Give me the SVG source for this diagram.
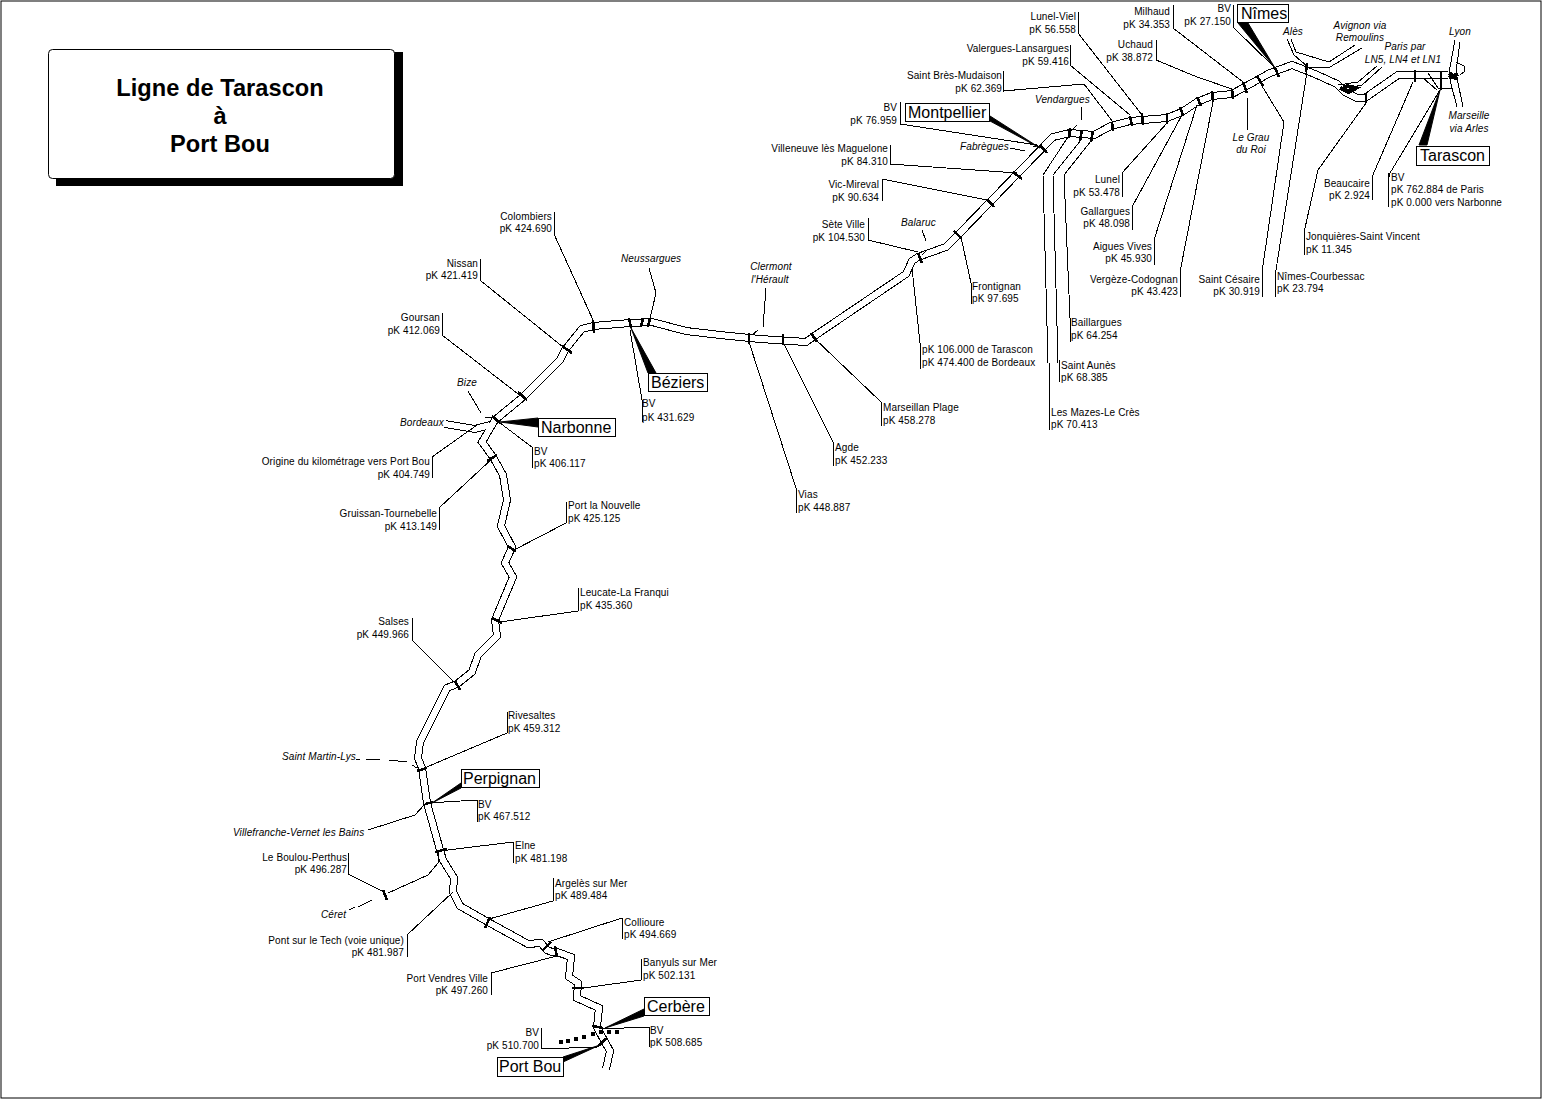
<svg xmlns="http://www.w3.org/2000/svg" width="1542" height="1100" viewBox="0 0 1542 1100">
<style>
text{font-family:"Liberation Sans",Arial,sans-serif;font-size:10px;letter-spacing:.12px;fill:#000}
.e{text-anchor:end}.m{text-anchor:middle}.i{font-style:italic}
.b{font-size:16px;letter-spacing:0}.h{font-size:23.6px;font-weight:bold;text-anchor:middle;letter-spacing:.05px}
.l,.t,.r,.o,.n{fill:none;stroke:#000;shape-rendering:crispEdges}
.l{stroke-width:1}.t{stroke-width:2.6}
.r{stroke-width:1}.o{stroke-width:8}.n{stroke:#fff;stroke-width:6}
.w{fill:#000;stroke:#000;stroke-width:1}.x{fill:#fff;stroke:#000;stroke-width:1}
</style>
<defs>
<path id="main" d="M1448 75L1398 75L1365 98L1357 98L1345 92L1337 84L1315 74L1292 65L1270 73L1232 94L1212 96L1197 102L1182 112L1167 118L1130 121L1111 126L1094 135L1070 133L1053 137L959 234L946 247L918 257L912 261L906 274L813 337L806 342L760 339L720 335L686 331L652 322L630 323L593 326L582 329L577 335L565 350L560 360L523 397L495 420L482 442L493 457L503 475L507 500L501 526L512 547L505 563L513 577L495 620L497 636L478 655L472 672L457 684L447 688L420 742L418 758L422 768L427 803L440 850L443 860L454 878L453 892L460 906L488 922L528 944L541 943L547 950L552 952L557 952L571 957L569 977L578 983L577 998L599 1008L597 1027L600 1033L610 1051L606 1069"/>
<path id="bdx" d="M445 424L475 429L490 425"/>
</defs>
<rect x="1" y="1" width="1540" height="1097" fill="#fff" stroke="#000"/>
<g id="title">
<rect x="56" y="52" width="347" height="134" fill="#000"/>
<rect x="48.500" y="49.500" width="346" height="129" rx="4" class="x"/>
<text class="h" x="220" y="96">Ligne de Tarascon</text>
<text class="h" x="220" y="124">à</text>
<text class="h" x="220" y="152">Port Bou</text>
</g>
<g id="tracks">
<use href="#bdx" class="o"/><use href="#main" class="o"/><use href="#bdx" class="n"/><use href="#main" class="n"/>
<path class="r" d="M1287 39L1294 55L1308 67M1291 39L1296 52L1329 62L1355 45M1307 67L1330 67L1362 48M1338 85L1358 82L1377 66M1353 87L1362 85L1382 67M1455 40L1449 73M1460 42L1456 72M1456 62L1464 66L1464 72L1460 75M1450 80L1457 107M1457 78L1463 107M1428 73L1438 88L1452 88M1423 78L1437 90"/>
<path class="t" style="stroke-width:4" d="M1340 88L1349 92L1356 88L1347 86L1341 90M1449 73L1457 79M1449 78L1458 74"/>
</g>
<g id="connectors">
<path class="l" d="M1078 33L1142 115M1070 65L1130 115M1003 91L1084 84L1113 122M900 124L1037 145M1068 137L1043 175L1048 363M1081 140L1053 175L1058 363M1091 141L1064 175L1070 318M1122 173L1167 123M1132 207L1182 115M1154 240L1197 105M1180 272L1213 102M1262 272L1284 122L1262 86M1276 270L1307 72M1156 60L1197 77L1232 89M1173 28L1243 82M1233 27L1275 68M1413 82L1372 177M1440 90L1390 173L1388 180M1366 103L1318 170L1305 228M890 164L1017 173M882 179L987 200M868 240L918 252M971 283L961 237M920 343L912 268M881 402L813 337M833 442L783 342M796 488L749 342M642 400L630 330M649 268L656 293L648 327M554 234L593 320M481 281L568 351M442 335L522 397M532 447L500 423M432 457L477 425M439 508L494 457M566 523L514 550M578 611L500 622M412 640L456 684M507 733L422 769M477 800L428 803M368 830L415 815L425 804M513 842L440 851M348 874L384 892M388 893L428 875L438 863L438 852M407 935L453 892M553 901L489 919M622 918L548 942M491 973L557 956M641 980L584 988M649 1027L600 1029M541 1049L597 1047L607 1038"/>
<path class="l" d="M1248 98L1247 130M1010 148L1025 151M1033 147L1038 145M1082 107L1081 120M1077 125L1070 132M922 230L926 241M927 250L922 255M766 288L763 327M758 330L752 335M468 391L481 413M485 417L493 417M356 759L360 759M366 759L380 760M389 760L407 762M412 765L417 768M349 910L355 907M358 907L372 900"/>
<path class="w" d="M990 116L990 121L1040 148ZM1238 23L1248 23L1275 68ZM1440 90L1419 145L1427 145ZM631 328L648 373L656 373ZM500 422L538 418L538 427ZM432 803L461 783L461 788ZM605 1028L644 1009L644 1016ZM600 1045L563 1057L563 1062Z"/>
</g>
<g id="ticks">
<path class="t" d="M1142 113L1143 125M1130 116L1132 126M1112 122L1113 131M1040 145L1047 153M1070 128L1069 138M1082 130L1080 141M1093 131L1091 142M1167 113L1167 124M1180 107L1183 115M1197 97L1201 106M1212 91L1213 102M1232 89L1233 99M1243 82L1247 93M1257 76L1263 86M1275 68L1279 77M1307 63L1306 72M1441 72L1441 90M1415 70L1415 82M1366 93L1366 103M1013 172L1022 179M987 199L994 207M918 253L922 263M954 231L962 239M811 333L817 342M783 334L783 345M749 333L749 344M643 318L641 327M650 318L648 327M629 318L631 328M593 320L594 333M562 346L572 353M518 392L527 400M492 416L500 423M487 461L497 455M507 546L516 551M492 618L502 623M455 681L460 690M417 771L427 768M425 804L433 802M435 852L447 849M383 890L387 900M490 917L485 928M551 942L542 951M555 946L557 957M572 988L584 988M592 1026L603 1028M607 1038L598 1046"/>
<path fill="#000" d="M559 1040h4v4h-4zM566 1039h4v4h-4zM574 1037h4v4h-4zM582 1035h4v4h-4zM591 1032h4v4h-4zM599 1030h4v4h-4zM607 1030h4v4h-4zM615 1030h4v4h-4z"/>
</g>
<g id="n-lunel-viel"><path class="l" d="M1078 12V34"/><text class="e" x="1076" y="20">Lunel-Viel</text><text class="e" x="1076" y="33">pK 56.558</text></g>
<g id="n-valergues"><path class="l" d="M1070 45V66"/><text class="e" x="1069" y="52">Valergues-Lansargues</text><text class="e" x="1069" y="65">pK 59.416</text></g>
<g id="n-saint-bres"><path class="l" d="M1003 71V92"/><text class="e" x="1002" y="79">Saint Brès-Mudaison</text><text class="e" x="1002" y="92">pK 62.369</text></g>
<g id="n-montpellier-bv"><path class="l" d="M900 102V124"/><text class="e" x="897" y="111">BV</text><text class="e" x="897" y="124">pK 76.959</text></g>
<g id="n-montpellier"><rect x="905.500" y="103.500" width="84" height="18" class="x"/><text class="b" x="908" y="118">Montpellier</text></g>
<g id="n-fabregues"><text class="i" x="960" y="150">Fabrègues</text></g>
<g id="n-vendargues"><text class="i" x="1035" y="103">Vendargues</text></g>
<g id="n-uchaud"><path class="l" d="M1156 40V61"/><text class="e" x="1153" y="48">Uchaud</text><text class="e" x="1153" y="61">pK 38.872</text></g>
<g id="n-milhaud"><path class="l" d="M1173 5V28"/><text class="e" x="1170" y="15">Milhaud</text><text class="e" x="1170" y="28">pK 34.353</text></g>
<g id="n-nimes-bv"><path class="l" d="M1233 5V27"/><text class="e" x="1231" y="12">BV</text><text class="e" x="1231" y="25">pK 27.150</text></g>
<g id="n-nimes"><rect x="1237.500" y="4.500" width="51" height="18" class="x"/><text class="b" x="1241" y="19">Nîmes</text></g>
<g id="n-ales"><text class="i" x="1283" y="35">Alès</text></g>
<g id="n-avignon"><text class="i m" x="1360" y="29">Avignon via</text><text class="i m" x="1360" y="41">Remoulins</text></g>
<g id="n-paris"><text class="i m" x="1405" y="50">Paris par</text><text class="i m" x="1403" y="63">LN5, LN4 et LN1</text></g>
<g id="n-lyon"><text class="i" x="1449" y="35">Lyon</text></g>
<g id="n-marseille"><text class="i m" x="1469" y="119">Marseille</text><text class="i m" x="1469" y="132">via Arles</text></g>
<g id="n-tarascon"><rect x="1416.500" y="146.500" width="73" height="19" class="x"/><text class="b" x="1420" y="161">Tarascon</text></g>
<g id="n-tarascon-bv"><path class="l" d="M1388 173V207"/><text x="1391" y="181">BV</text><text x="1391" y="193">pK 762.884 de Paris</text><text x="1391" y="206">pK 0.000 vers Narbonne</text></g>
<g id="n-beaucaire"><path class="l" d="M1372 177V200"/><text class="e" x="1370" y="187">Beaucaire</text><text class="e" x="1370" y="199">pK 2.924</text></g>
<g id="n-grau"><text class="i m" x="1251" y="141">Le Grau</text><text class="i m" x="1251" y="153">du Roi</text></g>
<g id="n-jonquieres"><path class="l" d="M1304 228V255"/><text x="1306" y="240">Jonquières-Saint Vincent</text><text x="1306" y="253">pK 11.345</text></g>
<g id="n-courbessac"><path class="l" d="M1275 270V297"/><text x="1277" y="280">Nîmes-Courbessac</text><text x="1277" y="292">pK 23.794</text></g>
<g id="n-cesaire"><path class="l" d="M1262 272V297"/><text class="e" x="1260" y="283">Saint Césaire</text><text class="e" x="1260" y="295">pK 30.919</text></g>
<g id="n-vergeze"><path class="l" d="M1180 272V297"/><text class="e" x="1178" y="283">Vergèze-Codognan</text><text class="e" x="1178" y="295">pK 43.423</text></g>
<g id="n-aigues"><path class="l" d="M1154 240V265"/><text class="e" x="1152" y="250">Aigues Vives</text><text class="e" x="1152" y="262">pK 45.930</text></g>
<g id="n-gallargues"><path class="l" d="M1132 207V230"/><text class="e" x="1130" y="215">Gallargues</text><text class="e" x="1130" y="227">pK 48.098</text></g>
<g id="n-lunel"><path class="l" d="M1122 173V197"/><text class="e" x="1120" y="183">Lunel</text><text class="e" x="1120" y="196">pK 53.478</text></g>
<g id="n-baillargues"><path class="l" d="M1070 318V342"/><text x="1071" y="326">Baillargues</text><text x="1071" y="339">pK 64.254</text></g>
<g id="n-aunes"><path class="l" d="M1059 360V382"/><text x="1061" y="369">Saint Aunès</text><text x="1061" y="381">pK 68.385</text></g>
<g id="n-mazes"><path class="l" d="M1049 363V430"/><text x="1051" y="416">Les Mazes-Le Crès</text><text x="1051" y="428">pK 70.413</text></g>
<g id="n-villeneuve"><path class="l" d="M890 145V165"/><text class="e" x="888" y="152">Villeneuve lès Maguelone</text><text class="e" x="888" y="165">pK 84.310</text></g>
<g id="n-vic"><path class="l" d="M882 179V201"/><text class="e" x="879" y="188">Vic-Mireval</text><text class="e" x="879" y="201">pK 90.634</text></g>
<g id="n-sete"><path class="l" d="M868 218V241"/><text class="e" x="865" y="228">Sète Ville</text><text class="e" x="865" y="241">pK 104.530</text></g>
<g id="n-balaruc"><text class="i" x="901" y="226">Balaruc</text></g>
<g id="n-frontignan"><path class="l" d="M971 283V304"/><text x="972" y="290">Frontignan</text><text x="972" y="302">pK 97.695</text></g>
<g id="n-pk106"><path class="l" d="M920 343V369"/><text x="922" y="353">pK 106.000 de Tarascon</text><text x="922" y="366">pK 474.400 de Bordeaux</text></g>
<g id="n-marseillan"><path class="l" d="M881 402V426"/><text x="883" y="411">Marseillan Plage</text><text x="883" y="424">pK 458.278</text></g>
<g id="n-agde"><path class="l" d="M833 442V466"/><text x="835" y="451">Agde</text><text x="835" y="464">pK 452.233</text></g>
<g id="n-vias"><path class="l" d="M796 488V513"/><text x="798" y="498">Vias</text><text x="798" y="511">pK 448.887</text></g>
<g id="n-clermont"><text class="i m" x="771" y="270">Clermont</text><text class="i m" x="770" y="283">l'Hérault</text></g>
<g id="n-neussargues"><text class="i" x="621" y="262">Neussargues</text></g>
<g id="n-beziers"><rect x="648.500" y="373.500" width="59" height="18" class="x"/><text class="b" x="651" y="388">Béziers</text></g>
<g id="n-beziers-bv"><path class="l" d="M642 400V422"/><text x="642" y="407">BV</text><text x="642" y="421">pK 431.629</text></g>
<g id="n-colombiers"><path class="l" d="M554 212V234"/><text class="e" x="552" y="220">Colombiers</text><text class="e" x="552" y="232">pK 424.690</text></g>
<g id="n-nissan"><path class="l" d="M480 259V281"/><text class="e" x="478" y="267">Nissan</text><text class="e" x="478" y="279">pK 421.419</text></g>
<g id="n-goursan"><path class="l" d="M442 313V335"/><text class="e" x="440" y="321">Goursan</text><text class="e" x="440" y="334">pK 412.069</text></g>
<g id="n-bize"><text class="i" x="457" y="386">Bize</text></g>
<g id="n-bordeaux"><text class="i" x="400" y="426">Bordeaux</text></g>
<g id="n-narbonne"><rect x="538.500" y="418.500" width="77" height="18" class="x"/><text class="b" x="541" y="433">Narbonne</text></g>
<g id="n-narbonne-bv"><path class="l" d="M532 447V468"/><text x="534" y="455">BV</text><text x="534" y="467">pK 406.117</text></g>
<g id="n-origine"><path class="l" d="M432 457V478"/><text class="e" x="430" y="465">Origine du kilométrage vers Port Bou</text><text class="e" x="430" y="478">pK 404.749</text></g>
<g id="n-gruissan"><path class="l" d="M439 508V530"/><text class="e" x="437" y="517">Gruissan-Tournebelle</text><text class="e" x="437" y="530">pK 413.149</text></g>
<g id="n-nouvelle"><path class="l" d="M566 502V523"/><text x="568" y="509">Port la Nouvelle</text><text x="568" y="522">pK 425.125</text></g>
<g id="n-leucate"><path class="l" d="M578 588V611"/><text x="580" y="596">Leucate-La Franqui</text><text x="580" y="609">pK 435.360</text></g>
<g id="n-salses"><path class="l" d="M412 618V640"/><text class="e" x="409" y="625">Salses</text><text class="e" x="409" y="638">pK 449.966</text></g>
<g id="n-rivesaltes"><path class="l" d="M507 712V733"/><text x="508" y="719">Rivesaltes</text><text x="508" y="732">pK 459.312</text></g>
<g id="n-saint-martin"><text class="i e" x="356" y="760">Saint Martin-Lys</text></g>
<g id="n-perpignan"><rect x="461.500" y="769.500" width="78" height="18" class="x"/><text class="b" x="463" y="784">Perpignan</text></g>
<g id="n-perpignan-bv"><path class="l" d="M477 800V822"/><text x="478" y="808">BV</text><text x="478" y="820">pK 467.512</text></g>
<g id="n-villefranche"><text class="i" x="233" y="836">Villefranche-Vernet les Bains</text></g>
<g id="n-elne"><path class="l" d="M513 842V863"/><text x="515" y="849">Elne</text><text x="515" y="862">pK 481.198</text></g>
<g id="n-boulou"><path class="l" d="M348 853V874"/><text class="e" x="347" y="861">Le Boulou-Perthus</text><text class="e" x="347" y="873">pK 496.287</text></g>
<g id="n-ceret"><text class="i" x="321" y="918">Céret</text></g>
<g id="n-tech"><path class="l" d="M407 935V957"/><text class="e" x="404" y="944">Pont sur le Tech (voie unique)</text><text class="e" x="404" y="956">pK 481.987</text></g>
<g id="n-argeles"><path class="l" d="M553 878V901"/><text x="555" y="887">Argelès sur Mer</text><text x="555" y="899">pK 489.484</text></g>
<g id="n-collioure"><path class="l" d="M622 918V939"/><text x="624" y="926">Collioure</text><text x="624" y="938">pK 494.669</text></g>
<g id="n-vendres"><path class="l" d="M491 973V995"/><text class="e" x="488" y="982">Port Vendres Ville</text><text class="e" x="488" y="994">pK 497.260</text></g>
<g id="n-banyuls"><path class="l" d="M641 959V980"/><text x="643" y="966">Banyuls sur Mer</text><text x="643" y="979">pK 502.131</text></g>
<g id="n-cerbere"><rect x="644.500" y="997.500" width="65" height="18" class="x"/><text class="b" x="647" y="1012">Cerbère</text></g>
<g id="n-cerbere-bv"><path class="l" d="M649 1027V1047"/><text x="650" y="1034">BV</text><text x="650" y="1046">pK 508.685</text></g>
<g id="n-portbou-bv"><path class="l" d="M541 1028V1049"/><text class="e" x="539" y="1036">BV</text><text class="e" x="539" y="1049">pK 510.700</text></g>
<g id="n-portbou"><rect x="497.500" y="1057.500" width="66" height="19" class="x"/><text class="b" x="499" y="1072">Port Bou</text></g>
</svg>
